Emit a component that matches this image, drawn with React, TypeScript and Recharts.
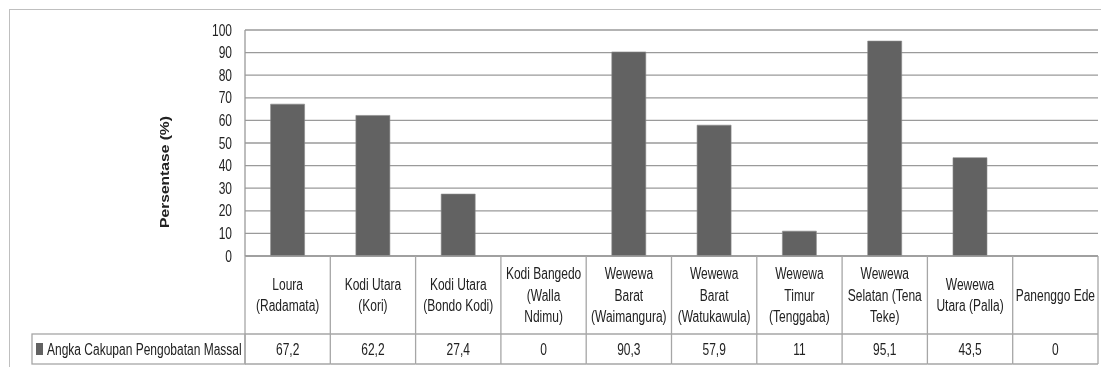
import React from "react";
import { BarChart, Bar, XAxis, YAxis, CartesianGrid } from "recharts";

const categories = [
  "Loura (Radamata)",
  "Kodi Utara (Kori)",
  "Kodi Utara (Bondo Kodi)",
  "Kodi Bangedo (Walla Ndimu)",
  "Wewewa Barat (Waimangura)",
  "Wewewa Barat (Watukawula)",
  "Wewewa Timur (Tenggaba)",
  "Wewewa Selatan (Tena Teke)",
  "Wewewa Utara (Palla)",
  "Panenggo Ede",
];

// how each category label wraps in the data table header
const labelLines = [
  ["Loura", "(Radamata)"],
  ["Kodi Utara", "(Kori)"],
  ["Kodi Utara", "(Bondo Kodi)"],
  ["Kodi Bangedo", "(Walla", "Ndimu)"],
  ["Wewewa", "Barat", "(Waimangura)"],
  ["Wewewa", "Barat", "(Watukawula)"],
  ["Wewewa", "Timur", "(Tenggaba)"],
  ["Wewewa", "Selatan (Tena", "Teke)"],
  ["Wewewa", "Utara (Palla)"],
  ["Panenggo Ede"],
];

const coverage = [67.2, 62.2, 27.4, 0, 90.3, 57.9, 11, 95.1, 43.5, 0];

const yTicks = [0, 10, 20, 30, 40, 50, 60, 70, 80, 90, 100];

const seriesName = "Angka Cakupan Pengobatan Massal";

const data = categories.map((name, i) => ({ name, value: coverage[i] }));

const FONT = "'Liberation Sans', Arial, sans-serif";
const BORDER = "#a6a6a6";
const HEADER_H = 78;
const ROW_H = 30;
const LINE_H = 21.5;
const LEGEND_LEFT = 24;

const fmt = (v: number) => String(v).replace(".", ",");

// the original text is tall and narrow, so stretch it vertically
const TallText = ({ x, y, anchor = "middle", children }: any) => (
  <text
    transform={`translate(${x} ${y}) scale(1 1.3)`}
    x={0}
    y={0}
    textAnchor={anchor}
    dominantBaseline="central"
    fontFamily={FONT}
    fontSize={12}
    fill="#222"
  >
    {children}
  </text>
);

const YTick = (props: any) => {
  const { x, y, payload } = props;
  return (
    <TallText x={x} y={y} anchor="end">
      {payload.value}
    </TallText>
  );
};

const TableTick = (props: any) => {
  const { x, y, payload, index } = props;
  const i = payload.index ?? index;
  const half = payload.offset || 42.65;
  const lines = labelLines[i] || [payload.value];
  const startY = y + HEADER_H / 2 - ((lines.length - 1) * LINE_H) / 2;
  const left = x - half;
  const right = x + half;

  return (
    <g>
      {lines.map((ln: string, k: number) => (
        <TallText key={k} x={x} y={startY + k * LINE_H}>
          {ln}
        </TallText>
      ))}
      <TallText x={x} y={y + HEADER_H + ROW_H / 2}>
        {fmt(coverage[i])}
      </TallText>
      <line x1={right} y1={y} x2={right} y2={y + HEADER_H + ROW_H} stroke={BORDER} strokeWidth={1.3} />
      <line x1={left} y1={y + HEADER_H} x2={right} y2={y + HEADER_H} stroke={BORDER} strokeWidth={1.3} />
      <line x1={left} y1={y + HEADER_H + ROW_H} x2={right} y2={y + HEADER_H + ROW_H} stroke={BORDER} strokeWidth={1.3} />
      {i === 0 && (
        <g>
          <line x1={left} y1={y} x2={left} y2={y + HEADER_H + ROW_H} stroke={BORDER} strokeWidth={1.3} />
          <rect
            x={LEGEND_LEFT}
            y={y + HEADER_H}
            width={left - LEGEND_LEFT}
            height={ROW_H}
            fill="none"
            stroke={BORDER}
            strokeWidth={1.3}
          />
          <rect x={LEGEND_LEFT + 4} y={y + HEADER_H + 9} width={7} height={12} fill="#626262" />
          <TallText x={LEGEND_LEFT + 15} y={y + HEADER_H + ROW_H / 2} anchor="start">
            {seriesName}
          </TallText>
        </g>
      )}
    </g>
  );
};

const YTitle = (props: any) => {
  const vb = props.viewBox || { x: 0, y: 22, width: 237, height: 226 };
  const cx = vb.x + vb.width - 80;
  const cy = vb.y + vb.height / 2 + 29;
  return (
    <text
      transform={`translate(${cx} ${cy}) rotate(-90) scale(1.25 1)`}
      x={0}
      y={0}
      textAnchor="middle"
      dominantBaseline="central"
      fontFamily={FONT}
      fontWeight="bold"
      fontSize={12.5}
      fill="#222"
    >
      Persentase (%)
    </text>
  );
};

export default function App() {
  // fixed so the page never grows a scrollbar
  return (
    <div style={{ position: "fixed", left: 8, top: 8, width: 1093, height: 359, overflow: "hidden" }}>
      <div
        style={{
          position: "absolute",
          left: 1,
          top: 1,
          width: 1200,
          height: 400,
          border: "1px solid #bfbfbf",
        }}
      />
      <BarChart
        width={1093}
        height={359}
        data={data}
        margin={{ top: 22, right: 3, bottom: 3, left: 0 }}
        barCategoryGap="30%"
        style={{ position: "relative" }}
      >
        <CartesianGrid vertical={false} stroke="#9a9a9a" strokeWidth={1.3} />
        <XAxis
          dataKey="name"
          height={108}
          interval={0}
          tickLine={false}
          tickSize={0}
          tickMargin={0}
          axisLine={{ stroke: "#9a9a9a", strokeWidth: 1.3 }}
          tick={<TableTick />}
        />
        <YAxis
          width={237}
          domain={[0, 100]}
          ticks={yTicks}
          interval={0}
          tickLine={false}
          tickSize={0}
          tickMargin={13}
          axisLine={{ stroke: "#9a9a9a", strokeWidth: 1.3 }}
          tick={<YTick />}
          label={{ content: <YTitle /> }}
        />
        <Bar dataKey="value" fill="#626262" stroke="#8a8a8a" strokeWidth={0.6} isAnimationActive={false} />
      </BarChart>
    </div>
  );
}
